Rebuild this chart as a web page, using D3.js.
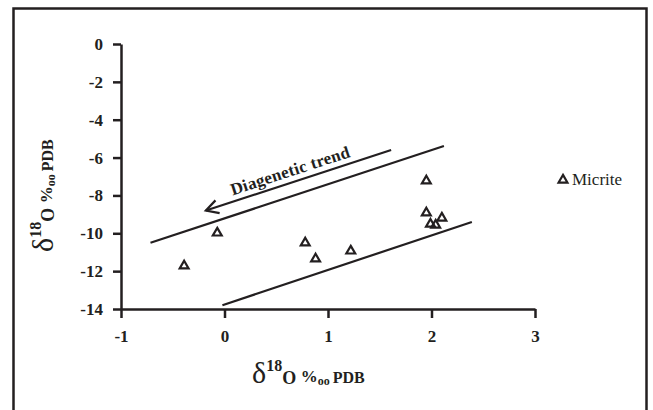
<html>
<head>
<meta charset="utf-8">
<script src="https://d3js.org/d3.v7.min.js"></script>
</head>
<body style="margin:0;background:#fff">
<svg width="653" height="410" font-family="Liberation Serif"></svg>
<script>
// micrite samples: d13C (x) and d18O (y)
const micriteX = [-0.39, -0.07, 0.78, 0.88, 1.22, 1.95, 1.95, 2.10, 1.99, 2.04];
const micriteY = [-11.67, -9.93, -10.45, -11.3, -10.88, -7.18, -8.87, -9.14, -9.46, -9.51];

const xTicks = [-1, 0, 1, 2, 3];
const yTicks = [0, -2, -4, -6, -8, -10, -12, -14];

// hand drawn guide lines, [x1, y1, x2, y2] in data units
const trendArrow = [-0.18, -8.8, 1.61, -5.6];
const upperLine = [-0.715, -10.5, 2.12, -5.39];
const lowerLine = [-0.02, -13.8, 2.39, -9.4];

const ink = "#231f20";

const svg = d3.select("svg");

// outer frame
svg.append("rect")
    .attr("x", 13.5).attr("y", 8.5)
    .attr("width", 633).attr("height", 420)
    .attr("fill", "none")
    .attr("stroke", ink)
    .attr("stroke-width", 2.5);

const x = d3.scaleLinear().domain([-1, 3]).range([121, 535]);
const y = d3.scaleLinear().domain([-14, 0]).range([309, 44]);

const xAxis = svg.append("g")
    .attr("transform", "translate(0,309)")
    .call(d3.axisBottom(x).tickValues(xTicks).tickSize(9).tickSizeOuter(0).tickPadding(12).tickFormat(d => String(d)));

const yAxis = svg.append("g")
    .attr("transform", "translate(121,0)")
    .call(d3.axisLeft(y).tickValues(yTicks).tickSize(8).tickSizeOuter(0).tickPadding(10).tickFormat(d => String(d)));

[xAxis, yAxis].forEach(g => {
    g.attr("font-family", "Liberation Serif").attr("font-size", 17).attr("font-weight", "bold");
    g.selectAll("path, line").attr("stroke", ink).attr("stroke-width", 2.5);
    g.selectAll("text").attr("fill", ink);
});

// guide lines
function guide(l) {
    return svg.append("line")
        .attr("x1", x(l[0])).attr("y1", y(l[1]))
        .attr("x2", x(l[2])).attr("y2", y(l[3]))
        .attr("stroke", ink).attr("stroke-width", 2.2);
}
guide(upperLine);
guide(lowerLine);
guide(trendArrow);

// open arrow head at the lower end of the trend line
const ax = x(trendArrow[0]), ay = y(trendArrow[1]);
const ang = Math.atan2(y(trendArrow[3]) - ay, x(trendArrow[2]) - ax);
const head = [ang - 0.5, ang + 0.5].map(a => [ax + 14 * Math.cos(a), ay + 14 * Math.sin(a)]);
svg.append("path")
    .attr("d", `M${head[0]}L${ax},${ay}L${head[1]}`)
    .attr("fill", "none").attr("stroke", ink).attr("stroke-width", 2.2);

const deg = ang * 180 / Math.PI;
svg.append("text")
    .attr("transform", `translate(292,176) rotate(${deg})`)
    .attr("text-anchor", "middle")
    .attr("font-family", "Liberation Serif")
    .attr("font-size", 17).attr("font-weight", "bold")
    .attr("letter-spacing", 0.3)
    .attr("fill", ink)
    .text("Diagenetic trend");

// points
const tri = d3.symbol().type(d3.symbolTriangle).size(34);
svg.selectAll(".pt")
    .data(micriteX.map((v, i) => [v, micriteY[i]]))
    .enter()
    .append("path")
    .attr("class", "pt")
    .attr("d", tri)
    .attr("transform", d => `translate(${x(d[0])},${y(d[1]) + 1})`)
    .attr("fill", "none").attr("stroke", ink).attr("stroke-width", 2.2);

// legend
svg.append("path").attr("d", tri)
    .attr("transform", "translate(563,180)")
    .attr("fill", "none").attr("stroke", ink).attr("stroke-width", 2.2);
svg.append("text").attr("x", 572).attr("y", 185)
    .attr("font-family", "Liberation Serif")
    .attr("font-size", 17).attr("fill", ink).text("Micrite");

// axis titles
function isoLabel(g) {
    const t = g.append("text").attr("font-family", "Liberation Serif").attr("fill", ink);
    t.append("tspan").attr("font-size", 30).text("\u03b4");
    t.append("tspan").attr("dy", -12).attr("font-size", 16).attr("font-weight", "bold").text("18");
    t.append("tspan").attr("dy", 13).attr("font-size", 18).attr("font-weight", "bold").text("O ");
    t.append("tspan").attr("dy", -2).attr("font-size", 17).attr("font-weight", "bold").text("%");
    t.append("tspan").attr("dy", 3).attr("font-size", 12).attr("font-weight", "bold").text("oo ");
    t.append("tspan").attr("dy", -2).attr("font-size", 16).attr("font-weight", "bold").text(" PDB");
}
isoLabel(svg.append("g").attr("transform", "translate(252,383)"));
isoLabel(svg.append("g").attr("transform", "translate(53,252) rotate(-90)"));
</script>
</body>
</html>
